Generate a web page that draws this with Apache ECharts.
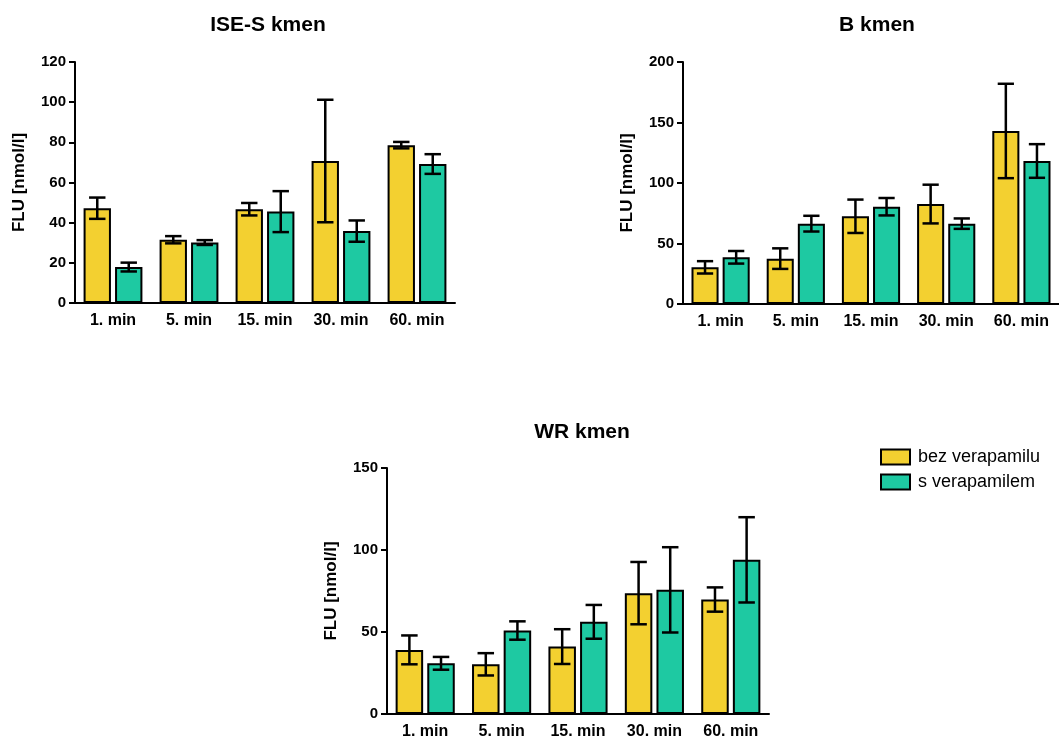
<!DOCTYPE html>
<html>
<head>
<meta charset="utf-8">
<script src="https://cdn.jsdelivr.net/npm/echarts@6/dist/echarts.min.js"></script>
<style>
  html, body { margin: 0; padding: 0; background: #fff; }
  #main { width: 1059px; height: 740px; }
</style>
</head>
<body>
<div id="main"></div>
<script>
// kategorie (čas)
const categories = ['1. min', '5. min', '15. min', '30. min', '60. min'];
const seriesNames = ['bez verapamilu', 's verapamilem'];

// ISE-S kmen
const iseBez = [47.2, 31.5, 46.7, 70.7, 78.6];
const iseBezErr = [5.3, 1.8, 3.1, 30.5, 1.6];
const iseS = [17.9, 30.1, 45.5, 35.8, 69.2];
const iseSErr = [2.2, 1.2, 10.2, 5.3, 4.9];

// B kmen
const bBez = [30.3, 37.5, 72.5, 82.6, 143];
const bBezErr = [5.1, 8.5, 13.8, 16, 39];
const bS = [38.6, 66.4, 80.4, 66.4, 118.2];
const bSErr = [5.2, 6.5, 7.2, 4.3, 13.9];

// WR kmen
const wrBez = [39.1, 30.3, 41.1, 73.7, 69.8];
const wrBezErr = [8.8, 6.8, 10.6, 19, 7.4];
const wrS = [30.9, 50.9, 56.2, 75.7, 94.0];
const wrSErr = [3.9, 5.6, 10.3, 26, 26];

const YELLOW = '#f3d030';
const TEAL = '#1ec9a2';
const FONT = 'Arial, "Liberation Sans", sans-serif';
const BAR_W = 0.36;   // podíl šířky kategorie
const BAR_GAP = 0.15; // mezera mezi sloupci (podíl šířky sloupce)

let chartDom = document.getElementById('main');
let myChart = echarts.init(chartDom);

const panels = [
  { title: 'ISE-S kmen', tx: 263, ty: 10, left: 75, top: 62, width: 380, height: 241, max: 120, interval: 20, data: [[iseBez, iseBezErr], [iseS, iseSErr]] },
  { title: 'B kmen', tx: 872, ty: 10, left: 683, top: 62, width: 378, height: 242, max: 200, interval: 50, data: [[bBez, bBezErr], [bS, bSErr]] },
  { title: 'WR kmen', tx: 577, ty: 417, left: 387, top: 468, width: 382, height: 246, max: 150, interval: 50, data: [[wrBez, wrBezErr], [wrS, wrSErr]] },
];

const colors = [YELLOW, TEAL];

let title = [], grid = [], xAxis = [], yAxis = [], series = [];

panels.forEach((p, i) => {
  title.push({
    text: p.title, left: p.tx, top: p.ty, textAlign: 'center',
    textStyle: { fontFamily: FONT, fontSize: 21, fontWeight: 'bold', color: '#000' },
  });
  grid.push({ left: p.left, top: p.top, width: p.width, height: p.height });
  xAxis.push({
    type: 'category', gridIndex: i, data: categories,
    axisLine: { lineStyle: { color: '#000', width: 2 } },
    axisTick: { alignWithLabel: true, length: 6, lineStyle: { color: '#000', width: 2 } },
    axisLabel: { color: '#000', fontFamily: FONT, fontSize: 16, fontWeight: 'bold', margin: 10 },
  });
  yAxis.push({
    type: 'value', gridIndex: i, min: 0, max: p.max, interval: p.interval,
    name: 'FLU [nmol/l]', nameLocation: 'middle', nameRotate: 90, nameGap: 47,
    nameTextStyle: { color: '#000', fontFamily: FONT, fontSize: 17, fontWeight: 'bold' },
    axisLine: { show: true, lineStyle: { color: '#000', width: 2 } },
    axisTick: { show: true, length: 6, lineStyle: { color: '#000', width: 2 } },
    axisLabel: { color: '#000', fontFamily: FONT, fontSize: 15, fontWeight: 'bold', margin: 9 },
    splitLine: { show: false },
  });

  p.data.forEach((d, k) => {
    series.push({
      name: seriesNames[k], type: 'bar', xAxisIndex: i, yAxisIndex: i,
      data: d[0], barWidth: (BAR_W * 100) + '%', barGap: (BAR_GAP * 100) + '%',
      itemStyle: { color: colors[k], borderColor: '#000', borderWidth: 2 },
      emphasis: { disabled: true },
    });
  });

  // chybové úsečky
  p.data.forEach((d, k) => {
    series.push({
      type: 'custom', xAxisIndex: i, yAxisIndex: i, z: 5, silent: true,
      data: d[0].map((v, j) => [j, v, d[1][j]]),
      renderItem: function (params, api) {
        const band = api.size([1, 0])[0];
        const w = band * BAR_W;
        const off = (w + w * BAR_GAP) / 2 * (k === 0 ? -1 : 1);
        const c = api.coord([api.value(0), api.value(1)]);
        const x = c[0] + off;
        const hi = api.coord([api.value(0), api.value(1) + api.value(2)])[1];
        const lo = api.coord([api.value(0), api.value(1) - api.value(2)])[1];
        const cap = w * 0.3;
        const style = { stroke: '#000', lineWidth: 2.5 };
        return {
          type: 'group',
          children: [
            { type: 'line', shape: { x1: x, y1: hi, x2: x, y2: lo }, style: style },
            { type: 'line', shape: { x1: x - cap, y1: hi, x2: x + cap, y2: hi }, style: style },
            { type: 'line', shape: { x1: x - cap, y1: lo, x2: x + cap, y2: lo }, style: style },
          ],
        };
      },
    });
  });
});

let option = {
  animation: false,
  title: title,
  legend: {
    data: seriesNames,
    left: 875, top: 443, orient: 'vertical',
    icon: 'rect',
    itemWidth: 29, itemHeight: 15, itemGap: 7,
    textStyle: { color: '#000', fontFamily: FONT, fontSize: 18, padding: [0, 0, 0, 3] },
    selectedMode: false,
  },
  grid: grid,
  xAxis: xAxis,
  yAxis: yAxis,
  series: series,
};

option && myChart.setOption(option);
</script>
</body>
</html>
